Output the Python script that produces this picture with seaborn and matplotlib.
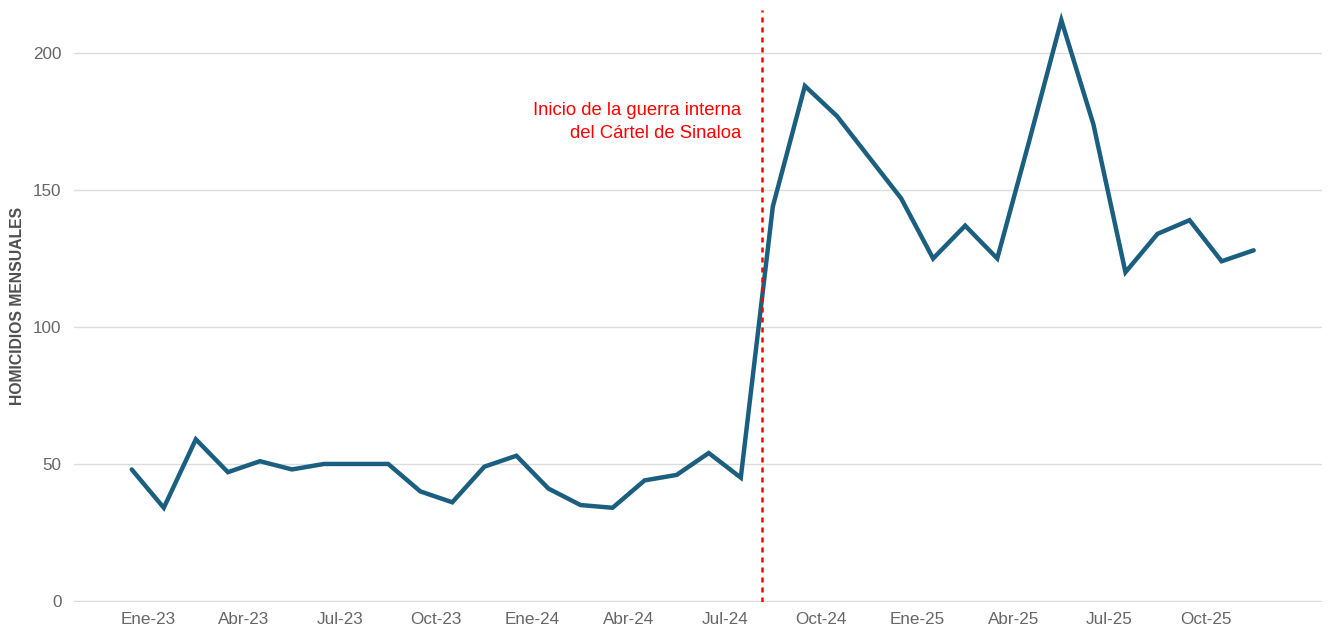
import numpy as np
import pandas as pd
import matplotlib.pyplot as plt
import seaborn as sns

# homicidios mensuales, Ene-2023 .. Dic-2025
homicidios = [48, 34, 59, 47, 51, 48, 50, 50, 50, 40, 36, 49,
              53, 41, 35, 34, 44, 46, 54, 45, 144, 188, 177, 162,
              147, 125, 137, 125, 168, 212, 174, 120, 134, 139, 124, 128]
tick_labels = ["Ene-23", "Abr-23", "Jul-23", "Oct-23",
               "Ene-24", "Abr-24", "Jul-24", "Oct-24",
               "Ene-25", "Abr-25", "Jul-25", "Oct-25"]
y_ticks = [0, 50, 100, 150, 200]
anotacion = "Inicio de la guerra interna\ndel Cártel de Sinaloa"

LINE_COLOR = "#1b5f80"
TICK_COLOR = "#666666"

sns.set_theme(style="white")
plt.rcParams["font.family"] = ["Liberation Sans", "DejaVu Sans"]

df = pd.DataFrame({"mes": np.arange(len(homicidios)), "homicidios": homicidios})

fig = plt.figure(figsize=(13.29, 6.30), dpi=100)
ax = fig.add_axes([0.0557, 0.044, 0.939, 0.940])

sns.lineplot(data=df, x="mes", y="homicidios", ax=ax, color=LINE_COLOR,
             linewidth=3.2, solid_joinstyle="miter", solid_capstyle="round", zorder=3)

# linea vertical: inicio de la guerra (sep-2024)
ax.axvline(19.67, color="#ff0000", linestyle=(0, (2, 2)), linewidth=1.8, zorder=4)
ax.text(19.0, 182, anotacion, color="#ff0000", fontsize=13.3,
        ha="right", va="top", linespacing=1.4)

ax.set_xlim(-1.8, 37.13)
ax.set_ylim(-0.5, 215.7)
ax.set_xticks(np.arange(0, len(homicidios), 3) + 0.5)
ax.set_xticklabels(tick_labels)
ax.set_yticks(y_ticks)

ax.yaxis.grid(True, color="#dcdcdc", linewidth=1)
ax.xaxis.grid(False)
for s in ax.spines.values():
    s.set_visible(False)
ax.tick_params(axis="both", length=0, labelsize=12.3, labelcolor=TICK_COLOR)
ax.tick_params(axis="x", pad=7)
ax.tick_params(axis="y", pad=9)

ax.set_xlabel("")
ax.set_ylabel("HOMICIDIOS MENSUALES", fontsize=11.3, fontweight="bold",
              color="#4f4f4f", labelpad=6)

fig.savefig("out.png", dpi=100)
plt.close(fig)
